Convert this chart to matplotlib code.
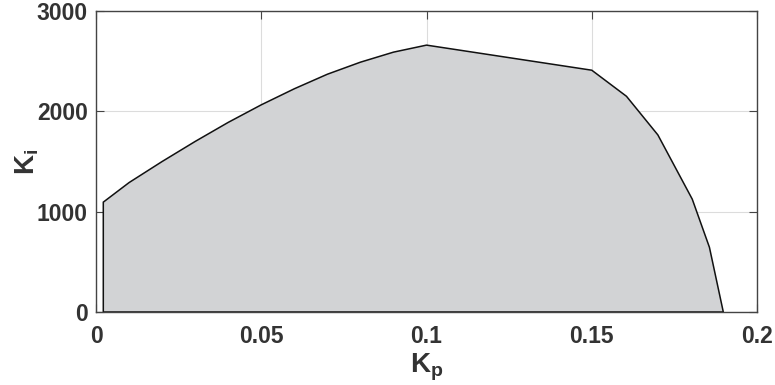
import matplotlib.pyplot as plt
import numpy as np

kp = [0.0022, 0.01, 0.02, 0.03, 0.04, 0.05, 0.06, 0.07, 0.08, 0.09, 0.10,
      0.15, 0.1605, 0.17, 0.1804, 0.1856, 0.1898]
ki = [1095, 1290, 1500, 1700, 1890, 2065, 2225, 2370, 2490, 2590, 2660,
      2410, 2150, 1765, 1125, 645, 0]
x_ticks = [0, 0.05, 0.1, 0.15, 0.2]
x_tick_labels = ['0', '0.05', '0.1', '0.15', '0.2']
y_ticks = [0, 1000, 2000, 3000]

plt.rcParams['font.family'] = ['Liberation Sans', 'DejaVu Sans']
plt.rcParams['mathtext.fontset'] = 'custom'
plt.rcParams['mathtext.rm'] = 'Liberation Sans:bold'
plt.rcParams['mathtext.it'] = 'Liberation Sans:bold'
plt.rcParams['mathtext.bf'] = 'Liberation Sans:bold'

text_color = '#333333'
fig = plt.figure(figsize=(7.75, 3.85), dpi=100)
ax = fig.add_axes([0.1239, 0.1896, 0.8529, 0.7818])

xs = np.array(kp)
ys = np.array(ki)
poly_x = np.concatenate([[xs[0]], xs, [xs[-1]]])
poly_y = np.concatenate([[0], ys, [0]])
ax.fill(poly_x, poly_y, facecolor='#d2d3d5', edgecolor='#111111', linewidth=1.1, zorder=2)

ax.set_xlim(0, 0.2)
ax.set_ylim(0, 3000)
ax.set_xticks(x_ticks)
ax.set_xticklabels(x_tick_labels)
ax.set_yticks(y_ticks)
ax.set_axisbelow(True)
ax.grid(True, color='#dcdcdc', linewidth=0.8, zorder=0)
ax.tick_params(direction='in', length=6, width=0.8, color='#444444',
               top=True, right=True, labelsize=16.5, labelcolor=text_color)
ax.tick_params(axis='x', pad=9)
ax.tick_params(axis='y', pad=6)
for lbl in ax.get_xticklabels() + ax.get_yticklabels():
    lbl.set_fontweight('bold')
for sp in ax.spines.values():
    sp.set_color('#444444')
    sp.set_linewidth(1.0)
    sp.set_zorder(3)

ax.set_xlabel(r'$\mathrm{K_p}$', fontsize=20, color=text_color, labelpad=3)
ax.set_ylabel(r'$\mathrm{K_i}$', fontsize=20, color=text_color, labelpad=-3)

fig.savefig('out.png', dpi=100)
